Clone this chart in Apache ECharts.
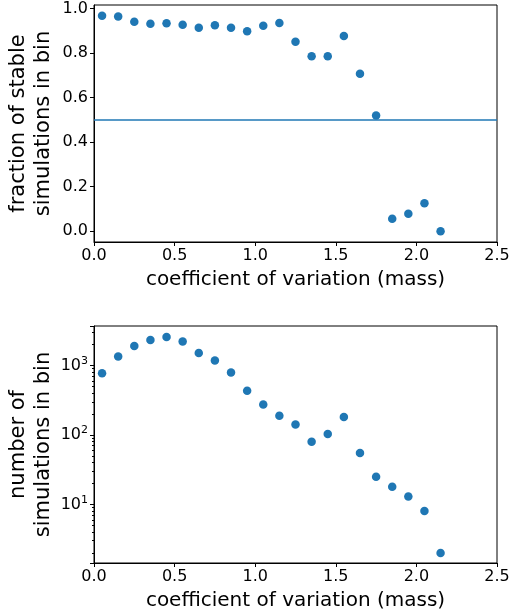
<!DOCTYPE html>
<html>
<head>
<meta charset="utf-8">
<script src="https://cdn.jsdelivr.net/npm/echarts@6/dist/echarts.min.js"></script>
<style>
html,body{margin:0;padding:0;background:#fff;}
#c{width:513px;height:615px;}
</style>
</head>
<body>
<div id="c"></div>
<script>
const binCenters = [0.05, 0.15, 0.25, 0.35, 0.45, 0.55, 0.65, 0.75, 0.85, 0.95, 1.05,
                    1.15, 1.25, 1.35, 1.45, 1.55, 1.65, 1.75, 1.85, 1.95, 2.05, 2.15];
const stableFraction = [0.968, 0.965, 0.941, 0.932, 0.934, 0.928, 0.914, 0.925, 0.914, 0.899, 0.923,
                        0.935, 0.851, 0.786, 0.786, 0.877, 0.708, 0.520, 0.056, 0.078, 0.126, 0.0];
const simCount = [776, 1347, 1918, 2340, 2585, 2213, 1521, 1180, 793, 432, 275,
                  189, 142, 80, 103, 181, 55, 25, 18, 13, 8, 2];
const threshold = 0.5;
const xTicks = [0, 0.5, 1.0, 1.5, 2.0, 2.5];

const FONT = 'DejaVu Sans';
const BLUE = '#1f77b4';

const chart = echarts.init(document.getElementById('c'), null, {renderer: 'canvas'});

function xAxisCfg(idx) {
  return {
    gridIndex: idx, type: 'value', min: xTicks[0], max: xTicks[xTicks.length - 1], interval: 0.5,
    name: 'coefficient of variation (mass)', nameLocation: 'middle', nameGap: 28,
    nameMoveOverlap: false,
    nameTextStyle: {fontFamily: FONT, fontSize: 20, color: '#000'},
    axisLine: {show: true, onZero: false, lineStyle: {color: '#000', width: 1}},
    axisTick: {show: true, length: 4, lineStyle: {color: '#000'}},
    axisLabel: {fontFamily: FONT, fontSize: 16, color: '#000', margin: 6,
                formatter: v => v.toFixed(1)},
    splitLine: {show: false}
  };
}

const option = {
  animation: false,
  backgroundColor: '#fff',
  textStyle: {fontFamily: FONT},
  grid: [
    {left: 94, top: 5, width: 403, height: 237, show: true, borderColor: '#000', borderWidth: 1,
     containLabel: false, outerBoundsMode: 'none'},
    {left: 94, top: 326, width: 403, height: 237, show: true, borderColor: '#000', borderWidth: 1,
     containLabel: false, outerBoundsMode: 'none'}
  ],
  xAxis: [xAxisCfg(0), xAxisCfg(1)],
  yAxis: [
    {
      gridIndex: 0, type: 'value', min: -0.0484, max: 1.0164, splitNumber: 5,
      name: 'fraction of stable\nsimulations in bin', nameLocation: 'middle', nameGap: 38, nameRotate: 90,
      nameMoveOverlap: false,
      nameTextStyle: {fontFamily: FONT, fontSize: 21, color: '#000', lineHeight: 25},
      axisLine: {show: true, lineStyle: {color: '#000', width: 1}},
      axisTick: {show: true, length: 4, lineStyle: {color: '#000'}},
      axisLabel: {fontFamily: FONT, fontSize: 16, color: '#000', margin: 6,
                  showMinLabel: false, showMaxLabel: false,
                  formatter: v => v.toFixed(1)},
      splitLine: {show: false}
    },
    {
      gridIndex: 1, type: 'log', logBase: 10, min: 1.43, max: 3715, splitNumber: 3,
      name: 'number of\nsimulations in bin', nameLocation: 'middle', nameGap: 38, nameRotate: 90,
      nameMoveOverlap: false,
      nameTextStyle: {fontFamily: FONT, fontSize: 21, color: '#000', lineHeight: 25},
      axisLine: {show: true, lineStyle: {color: '#000', width: 1}},
      axisTick: {show: true, length: 4, lineStyle: {color: '#000'}},
      minorTick: {show: true, splitNumber: 9, length: 2, lineStyle: {color: '#000'}},
      axisLabel: {fontFamily: FONT, fontSize: 16, color: '#000', margin: 6,
                  showMinLabel: false, showMaxLabel: false,
                  formatter: v => '{b|10}{s|' + Math.round(Math.log10(v)) + '}',
                  rich: {
                    b: {fontFamily: FONT, fontSize: 16, color: '#000'},
                    s: {fontFamily: FONT, fontSize: 11, color: '#000', padding: [0, 0, 9, 0]}
                  }},
      splitLine: {show: false}
    }
  ],
  series: [
    {
      type: 'scatter', xAxisIndex: 0, yAxisIndex: 0, symbolSize: 8.5,
      itemStyle: {color: BLUE, opacity: 1},
      data: binCenters.map((x, i) => [x, stableFraction[i]]),
      markLine: {
        silent: true, symbol: 'none', label: {show: false},
        lineStyle: {color: BLUE, width: 1.5, type: 'solid', opacity: 1},
        data: [{yAxis: threshold}]
      }
    },
    {
      type: 'scatter', xAxisIndex: 1, yAxisIndex: 1, symbolSize: 8.5,
      itemStyle: {color: BLUE, opacity: 1},
      data: binCenters.map((x, i) => [x, simCount[i]])
    }
  ]
};
chart.setOption(option);
</script>
</body>
</html>
